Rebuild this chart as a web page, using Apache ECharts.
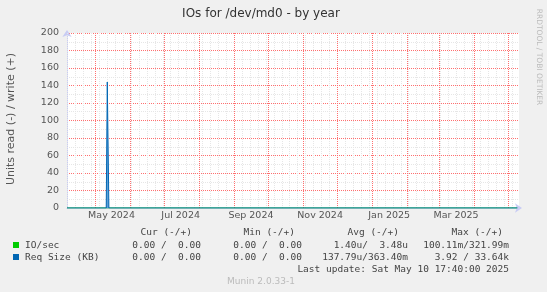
<!DOCTYPE html>
<html><head><meta charset="utf-8">
<script src="https://cdn.jsdelivr.net/npm/echarts@6/dist/echarts.min.js"></script>
<style>html,body{margin:0;padding:0;background:#f0f0f0;}#c{width:547px;height:292px;}</style>
</head><body><div id="c"></div>
<script>
// ---- data ----
const xStart = '2024-04-06 17:00';
const xEnd = '2025-05-10 12:00';
const ioDates = ['2024-04-06 17:00', '2025-05-09 00:00'];
const ioValues = [0, 0];
const reqDates = ['2024-04-06 17:00', '2024-05-11 08:00', '2024-05-12 06:00', '2024-05-12 18:00', '2024-05-13 16:00', '2025-05-09 00:00'];
const reqValues = [0, 0, 144, 144, 0, 0];
const xLabelDates = ['2024-05-16', '2024-07-16', '2024-09-16', '2024-11-16', '2025-01-16', '2025-03-16'];
const xLabelTexts = ['May 2024', 'Jul 2024', 'Sep 2024', 'Nov 2024', 'Jan 2025', 'Mar 2025'];
const monthGridDates = ['2024-05-01','2024-06-01','2024-07-01','2024-08-01','2024-09-01','2024-10-01','2024-11-01','2024-12-01','2025-01-01','2025-02-01','2025-03-01','2025-04-01','2025-05-01'];
const yMin = 0, yMax = 200, yStep = 20;
const legendNames = ['IO/sec', 'Req Size (KB)'];
const statHeaders = ['Cur (-/+)', 'Min (-/+)', 'Avg (-/+)', 'Max (-/+)'];
const ioStats = ['0.00 /  0.00', '0.00 /  0.00', '1.40u/  3.48u', '100.11m/321.99m'];
const reqStats = ['0.00 /  0.00', '0.00 /  0.00', '137.79u/363.40m', '3.92 / 33.64k'];
const lastUpdate = 'Last update: Sat May 10 17:40:00 2025';
const titleText = 'IOs for /dev/md0 - by year';
const yName = 'Units read (-) / write (+)';
const watermark = 'RRDTOOL / TOBI OETIKER';
const footer = 'Munin 2.0.33-1';

// ---- build ----
const ts = s => new Date((s.length === 10 ? s + ' 00:00' : s).replace(' ', 'T') + ':00Z').getTime();
const weekGrid = [];
for (let t = ts('2024-04-07 00:00'); t < ts(xEnd); t += 7 * 86400000) weekGrid.push(t);
const labelMap = {};
xLabelDates.forEach((d, i) => { labelMap[ts(d)] = xLabelTexts[i]; });

const GREEN = '#00cc00', BLUE = '#0066b3';
const RED_GRID = '#ff6f6f', GRAY_GRID = '#e6e6e6';
const mono = 'DejaVu Sans Mono';
const txtColor = '#444';
const colRight = [201, 302, 408, 509];
const hdrRight = [192, 295, 399, 503];

const g = [];
g.push({ type: 'text', x: 261, y: 14, style: { text: titleText, font: '12px "DejaVu Sans"', fill: '#333', align: 'center', verticalAlign: 'middle' } });
g.push({ type: 'text', x: 11, y: 119, rotation: Math.PI / 2, style: { text: yName, font: '11px "DejaVu Sans"', fill: '#555', align: 'center', verticalAlign: 'middle' } });
g.push({ type: 'text', x: 539, y: 57, rotation: -Math.PI / 2, style: { text: watermark, font: '7.5px "DejaVu Sans"', fill: '#bbb', align: 'center', verticalAlign: 'middle' } });
statHeaders.forEach((h, i) => g.push({ type: 'text', x: hdrRight[i], y: 233, style: { text: h, font: '9.5px "' + mono + '"', fill: txtColor, align: 'right', verticalAlign: 'middle' } }));
[[ioStats, GREEN, 246], [reqStats, BLUE, 258]].forEach(([stats, col, y], r) => {
  g.push({ type: 'rect', shape: { x: 13, y: y - 4, width: 6, height: 6 }, style: { fill: col } });
  g.push({ type: 'text', x: 25, y: y, style: { text: legendNames[r], font: '9.5px "' + mono + '"', fill: txtColor, align: 'left', verticalAlign: 'middle' } });
  stats.forEach((s, i) => g.push({ type: 'text', x: colRight[i], y: y, style: { text: s, font: '9.5px "' + mono + '"', fill: txtColor, align: 'right', verticalAlign: 'middle' } }));
});
g.push({ type: 'text', x: 509, y: 270, style: { text: lastUpdate, font: '9.5px "' + mono + '"', fill: txtColor, align: 'right', verticalAlign: 'middle' } });
g.push({ type: 'text', x: 261, y: 282, style: { text: footer, font: '9px "DejaVu Sans"', fill: '#bbb', align: 'center', verticalAlign: 'middle' } });

// vertical grid lines drawn through the x scale
const vGrid = (vals, color, z) => ({
  type: 'custom', z: z, silent: true, clip: true,
  data: vals.map(v => [typeof v === 'string' ? ts(v) : v]),
  encode: { x: 0 },
  renderItem: (params, api) => {
    const p = api.coord([api.value(0), yMin]);
    const top = api.coord([api.value(0), yMax]);
    const x = Math.round(p[0]) + 0.5;
    return { type: 'line', shape: { x1: x, y1: Math.round(p[1]), x2: x, y2: Math.round(top[1]) },
      style: { stroke: color, fill: null, lineWidth: 1, lineDash: [1, 1] } };
  }
});

const chart = echarts.init(document.getElementById('c'), null, { renderer: 'canvas' });
chart.setOption({
  animation: false,
  backgroundColor: '#f0f0f0',
  textStyle: { fontFamily: 'DejaVu Sans' },
  grid: { left: 67, right: 28, top: 33, bottom: 84, show: true, backgroundColor: '#ffffff', borderWidth: 0 },
  xAxis: {
    type: 'value', min: ts(xStart), max: ts(xEnd),
    axisLine: { show: true, lineStyle: { color: '#c8ccf4', width: 1 }, symbol: ['none', 'arrow'], symbolSize: [7, 7], symbolOffset: [0, 3] },
    axisTick: { show: false },
    splitLine: { show: false },
    axisLabel: {
      customValues: xLabelDates.map(ts), hideOverlap: false,
      formatter: v => labelMap[v] || '', color: '#555', fontSize: 9.5, margin: 3,
      fontFamily: 'DejaVu Sans'
    }
  },
  yAxis: {
    type: 'value', min: yMin, max: yMax, interval: yStep,
    axisLine: { show: true, lineStyle: { color: '#c8ccf4', width: 1 }, symbol: ['none', 'arrow'], symbolSize: [7, 7], symbolOffset: [0, 3] },
    axisTick: { show: false },
    axisLabel: { color: '#555', fontSize: 9.5, margin: 8, fontFamily: 'DejaVu Sans' },
    splitLine: { show: true, lineStyle: { color: RED_GRID, type: [1, 1] } },
    minorTick: { show: false, splitNumber: 2 },
    minorSplitLine: { show: true, lineStyle: { color: GRAY_GRID, type: [1, 1] } }
  },
  series: [
    vGrid(weekGrid, GRAY_GRID, 1),
    vGrid(monthGridDates, RED_GRID, 2),
    { name: legendNames[0], type: 'line', z: 3, data: ioDates.map((d, i) => [ts(d), ioValues[i]]), showSymbol: false, lineStyle: { color: GREEN, width: 1 } },
    { name: legendNames[1], type: 'line', z: 4, data: reqDates.map((d, i) => [ts(d), reqValues[i]]), showSymbol: false,
      lineStyle: { color: BLUE, width: 1 }, areaStyle: { color: '#5d9fd6', opacity: 1 } }
  ],
  graphic: g
});
</script></body></html>
